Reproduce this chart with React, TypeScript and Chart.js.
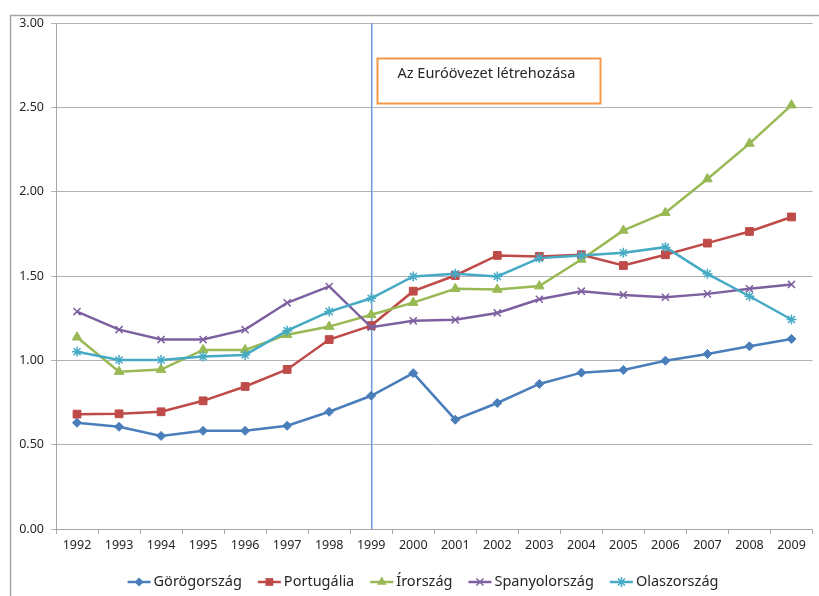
import React, { useEffect, useRef } from "react";
import { Chart, registerables } from "chart.js";

Chart.register(...registerables);

const years = ["1992","1993","1994","1995","1996","1997","1998","1999","2000","2001","2002","2003","2004","2005","2006","2007","2008","2009"];

const gorogorszag = [0.63,0.606,0.552,0.582,0.582,0.612,0.695,0.79,0.924,0.648,0.747,0.86,0.927,0.943,0.998,1.038,1.083,1.127];
const portugalia = [0.681,0.683,0.695,0.76,0.845,0.946,1.123,1.206,1.41,1.503,1.622,1.616,1.626,1.562,1.626,1.695,1.764,1.85];
const irorszag = [1.137,0.933,0.945,1.062,1.062,1.152,1.2,1.27,1.342,1.424,1.42,1.44,1.598,1.77,1.875,2.075,2.285,2.513];
const spanyolorszag = [1.289,1.182,1.123,1.123,1.182,1.341,1.438,1.196,1.234,1.24,1.281,1.362,1.41,1.388,1.374,1.394,1.424,1.45];
const olaszorszag = [1.051,1.002,1.002,1.022,1.032,1.176,1.289,1.368,1.497,1.513,1.497,1.606,1.622,1.638,1.671,1.513,1.38,1.242];

const seriesNames = ["Görögország","Portugália","Írország","Spanyolország","Olaszország"];
const seriesColors = ["#4A7EBB","#BE4B48","#98B954","#7D60A0","#46AAC5"];
const seriesMarkers = ["rectRot","rect","triangle","crossRot","star"];
const seriesRadius = [4.5,5.5,5.5,5,5];

const euroYear = "1999";
const annotationText = "Az Euróövezet létrehozása";

const FONT = "'Noto Sans', 'Open Sans', sans-serif";

function drawMarker(ctx: CanvasRenderingContext2D, style: string, x: number, y: number, r: number, color: string) {
  ctx.save();
  ctx.fillStyle = color;
  ctx.strokeStyle = color;
  ctx.lineWidth = 1.5;
  ctx.beginPath();
  const s = r / Math.SQRT2;
  if (style === "rect") {
    ctx.fillRect(x - s, y - s, 2 * s, 2 * s);
  } else if (style === "rectRot") {
    ctx.moveTo(x, y - r);
    ctx.lineTo(x + r, y);
    ctx.lineTo(x, y + r);
    ctx.lineTo(x - r, y);
    ctx.closePath();
    ctx.fill();
  } else if (style === "triangle") {
    ctx.moveTo(x, y - r);
    ctx.lineTo(x + r * 0.866, y + r * 0.5);
    ctx.lineTo(x - r * 0.866, y + r * 0.5);
    ctx.closePath();
    ctx.fill();
  } else if (style === "crossRot") {
    ctx.moveTo(x - s, y - s);
    ctx.lineTo(x + s, y + s);
    ctx.moveTo(x + s, y - s);
    ctx.lineTo(x - s, y + s);
    ctx.stroke();
  } else if (style === "star") {
    ctx.moveTo(x - s, y - s);
    ctx.lineTo(x + s, y + s);
    ctx.moveTo(x + s, y - s);
    ctx.lineTo(x - s, y + s);
    ctx.moveTo(x, y - r);
    ctx.lineTo(x, y + r);
    ctx.moveTo(x - r, y);
    ctx.lineTo(x + r, y);
    ctx.stroke();
  }
  ctx.restore();
}

const decorPlugin = {
  id: "decor",
  beforeDraw(chart: any) {
    const ctx = chart.ctx;
    ctx.save();
    ctx.fillStyle = "#ffffff";
    ctx.fillRect(0, 0, chart.width, chart.height);
    ctx.strokeStyle = "#a6a6a6";
    ctx.lineWidth = 1.5;
    ctx.beginPath();
    ctx.moveTo(10.5, chart.height + 5);
    ctx.lineTo(10.5, 15.5);
    ctx.lineTo(chart.width + 5, 15.5);
    ctx.stroke();
    ctx.restore();
  },
  beforeDatasetsDraw(chart: any) {
    const ctx = chart.ctx;
    const xs = chart.scales.x;
    const area = chart.chartArea;
    const x = xs.getPixelForValue(years.indexOf(euroYear)) + 0.5;
    ctx.save();
    ctx.strokeStyle = "#6B9BD6";
    ctx.lineWidth = 1.5;
    ctx.beginPath();
    ctx.moveTo(x, area.top);
    ctx.lineTo(x, area.bottom);
    ctx.stroke();
    ctx.restore();
  },
  afterDatasetsDraw(chart: any) {
    const ctx = chart.ctx;
    const xs = chart.scales.x;
    const area = chart.chartArea;
    const x = xs.getPixelForValue(years.indexOf(euroYear));
    // annotation box
    const bx = Math.round(x + 6) + 0.5;
    const by = area.top + 35.5;
    const bw = 223;
    const bh = 45;
    ctx.save();
    ctx.strokeStyle = "#F79646";
    ctx.lineWidth = 2;
    ctx.strokeRect(bx, by, bw, bh);
    ctx.fillStyle = "#262626";
    ctx.font = `14.5px ${FONT}`;
    ctx.textBaseline = "middle";
    ctx.textAlign = "left";
    ctx.fillText(annotationText, bx + 20, by + 15);
    ctx.restore();

    // legend
    ctx.save();
    ctx.font = `14.5px ${FONT}`;
    ctx.textBaseline = "middle";
    const lineLen = 23;
    const gapText = 3;
    const gapItem = 16;
    const widths = seriesNames.map((n) => ctx.measureText(n).width);
    let total = 0;
    widths.forEach((w, i) => {
      total += lineLen + gapText + w + (i < widths.length - 1 ? gapItem : 0);
    });
    let lx = 423 - total / 2;
    const ly = 582;
    chart.data.datasets.forEach((ds: any, i: number) => {
      ctx.strokeStyle = ds.borderColor;
      ctx.lineWidth = 2.5;
      ctx.beginPath();
      ctx.moveTo(lx, ly);
      ctx.lineTo(lx + lineLen, ly);
      ctx.stroke();
      drawMarker(ctx, ds.pointStyle, lx + lineLen / 2, ly, ds.pointRadius, ds.borderColor);
      ctx.fillStyle = "#262626";
      ctx.fillText(seriesNames[i], lx + lineLen + gapText, ly);
      lx += lineLen + gapText + widths[i] + gapItem;
    });
    ctx.restore();
  },
};

export default function App() {
  const ref = useRef<HTMLCanvasElement | null>(null);

  useEffect(() => {
    if (!ref.current) return;
    const allSeries = [gorogorszag, portugalia, irorszag, spanyolorszag, olaszorszag];
    const chart = new Chart(ref.current, {
      type: "line",
      data: {
        labels: years,
        datasets: allSeries.map((vals, i) => ({
          label: seriesNames[i],
          data: vals,
          borderColor: seriesColors[i],
          backgroundColor: seriesColors[i],
          borderWidth: 2.5,
          pointStyle: seriesMarkers[i],
          pointRadius: seriesRadius[i],
          pointBorderWidth: seriesMarkers[i] === "crossRot" || seriesMarkers[i] === "star" ? 1.5 : 1,
          pointBackgroundColor: seriesColors[i],
          pointBorderColor: seriesColors[i],
          tension: 0,
          fill: false,
          order: allSeries.length - i,
        })),
      },
      options: {
        animation: false,
        responsive: false,
        maintainAspectRatio: false,
        devicePixelRatio: 1,
        layout: { padding: { top: 23, right: 1, left: 0, bottom: 0 } },
        plugins: {
          legend: { display: false },
          tooltip: { enabled: false },
        },
        scales: {
          x: {
            type: "category",
            offset: true,
            grid: {
              display: true,
              drawOnChartArea: false,
              drawTicks: true,
              tickLength: 5,
              color: "#a6a6a6",
              offset: true,
            },
            border: { display: true, color: "#a6a6a6", width: 1 },
            ticks: {
              color: "#262626",
              font: { family: FONT, size: 12.5 },
              padding: 4,
              maxRotation: 0,
              autoSkip: false,
            },
            afterFit: (scale: any) => {
              scale.height = 67;
            },
          },
          y: {
            min: 0,
            max: 3,
            grid: {
              color: "#b3b3b3",
              lineWidth: 1,
              tickLength: 5,
              drawTicks: true,
            },
            border: { display: true, color: "#a6a6a6", width: 1 },
            ticks: {
              stepSize: 0.5,
              color: "#262626",
              font: { family: FONT, size: 12.5 },
              padding: 7,
              callback: (v: any) => Number(v).toFixed(2),
            },
            afterFit: (scale: any) => {
              scale.width = 56;
            },
          },
        },
      },
      plugins: [decorPlugin],
    });
    return () => chart.destroy();
  }, []);

  return (
    <div style={{ position: "fixed", left: 0, top: 0, width: 819, height: 596 }}>
      <canvas ref={ref} width={819} height={596} style={{ display: "block" }} />
    </div>
  );
}
